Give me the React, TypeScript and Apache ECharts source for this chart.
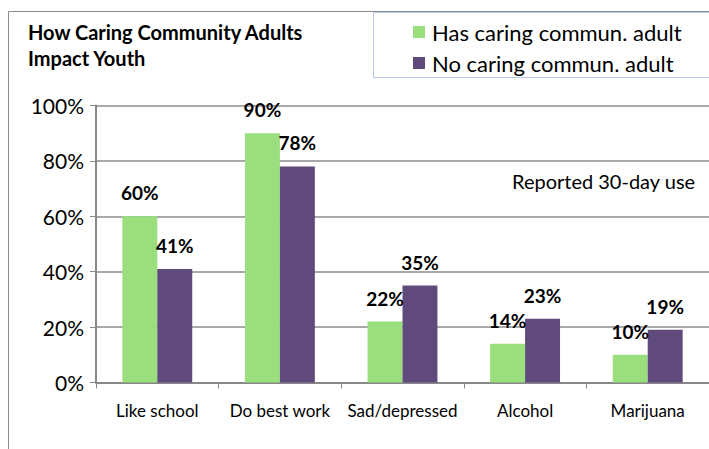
import React, { useEffect, useRef } from "react";
import * as echarts from "echarts";

const categories = ["Like school", "Do best work", "Sad/depressed", "Alcohol", "Marijuana"];
const hasAdult = [60, 90, 22, 14, 10];
const noAdult = [41, 78, 35, 23, 19];
const yTicks = [0, 20, 40, 60, 80, 100];
const seriesNames = ["Has caring commun. adult", "No caring commun. adult"];
const titleLines = ["How Caring Community Adults", "Impact Youth"];
const note = "Reported 30-day use";

const FONT = "Lato, 'Noto Sans', sans-serif";

export default function App() {
  const ref = useRef<HTMLDivElement>(null);
  useEffect(() => {
    if (!ref.current) return;
    const chart = echarts.init(ref.current, null, { renderer: "svg" });
    const label = {
      show: true,
      position: "top" as const,
      distance: 14,
      formatter: "{c}%",
      fontFamily: FONT,
      fontWeight: "bold" as const,
      fontSize: 19,
      color: "#000",
    };
    chart.setOption({
      animation: false,
      backgroundColor: "#fff",
      textStyle: { fontFamily: FONT },
      graphic: [
        { type: "line", shape: { x1: 8.5, y1: 11.5, x2: 709, y2: 11.5 }, style: { stroke: "#8c8c8c", lineWidth: 1 } },
        { type: "line", shape: { x1: 8.5, y1: 11.5, x2: 8.5, y2: 449 }, style: { stroke: "#8c8c8c", lineWidth: 1 } },
        { type: "rect", shape: { x: 373.5, y: 12.5, width: 340, height: 65 }, style: { fill: "#fff", stroke: "#b8c8e4", lineWidth: 1 }, z: 0 },
        { type: "text", left: 28, top: 19, style: { text: titleLines.join("\n"), fontFamily: FONT, fontWeight: "bold", fontSize: 20, lineHeight: 26, fill: "#000" } },
        { type: "text", left: 512, top: 171, style: { text: note, fontFamily: FONT, fontSize: 20, fill: "#000" } },
      ],
      legend: {
        orient: "vertical",
        left: 408,
        top: 16,
        itemWidth: 12,
        itemHeight: 12,
        itemGap: 9,
        icon: "rect",
        data: seriesNames,
        textStyle: { fontFamily: FONT, fontSize: 22, color: "#000", lineHeight: 22, padding: [0, 0, 0, 2] },
        z: 5,
      },
      grid: { left: 96, right: -3, top: 105.5, bottom: 449 - 382.5 },
      xAxis: {
        type: "category",
        data: categories,
        axisLine: { lineStyle: { color: "#888", width: 2 } },
        axisTick: { show: true, length: 6, lineStyle: { color: "#888" } },
        axisLabel: { fontFamily: FONT, fontSize: 17, color: "#000", margin: 19, interval: 0, hideOverlap: false },
      },
      yAxis: {
        type: "value",
        min: 0,
        max: 100,
        interval: 20,
        axisLine: { show: true, lineStyle: { color: "#888", width: 2 } },
        axisTick: { show: true, length: 6, lineStyle: { color: "#888" } },
        axisLabel: {
          fontFamily: FONT,
          fontSize: 21,
          color: "#000",
          margin: 12,
          formatter: (v: number) => (yTicks.includes(v) ? v + "%" : ""),
        },
        splitLine: { lineStyle: { color: "#8c8c8c", width: 1.5 } },
      },
      series: [
        {
          name: seriesNames[0],
          type: "bar",
          data: hasAdult,
          itemStyle: { color: "#9ade7e" },
          barGap: "0%",
          barCategoryGap: "43%",
          label,
        },
        {
          name: seriesNames[1],
          type: "bar",
          data: noAdult,
          itemStyle: { color: "#604a7b" },
          label,
        },
      ],
    });
    return () => chart.dispose();
  }, []);
  return <div ref={ref} style={{ width: 709, height: 449, position: "absolute", left: 0, top: 0 }} />;
}
